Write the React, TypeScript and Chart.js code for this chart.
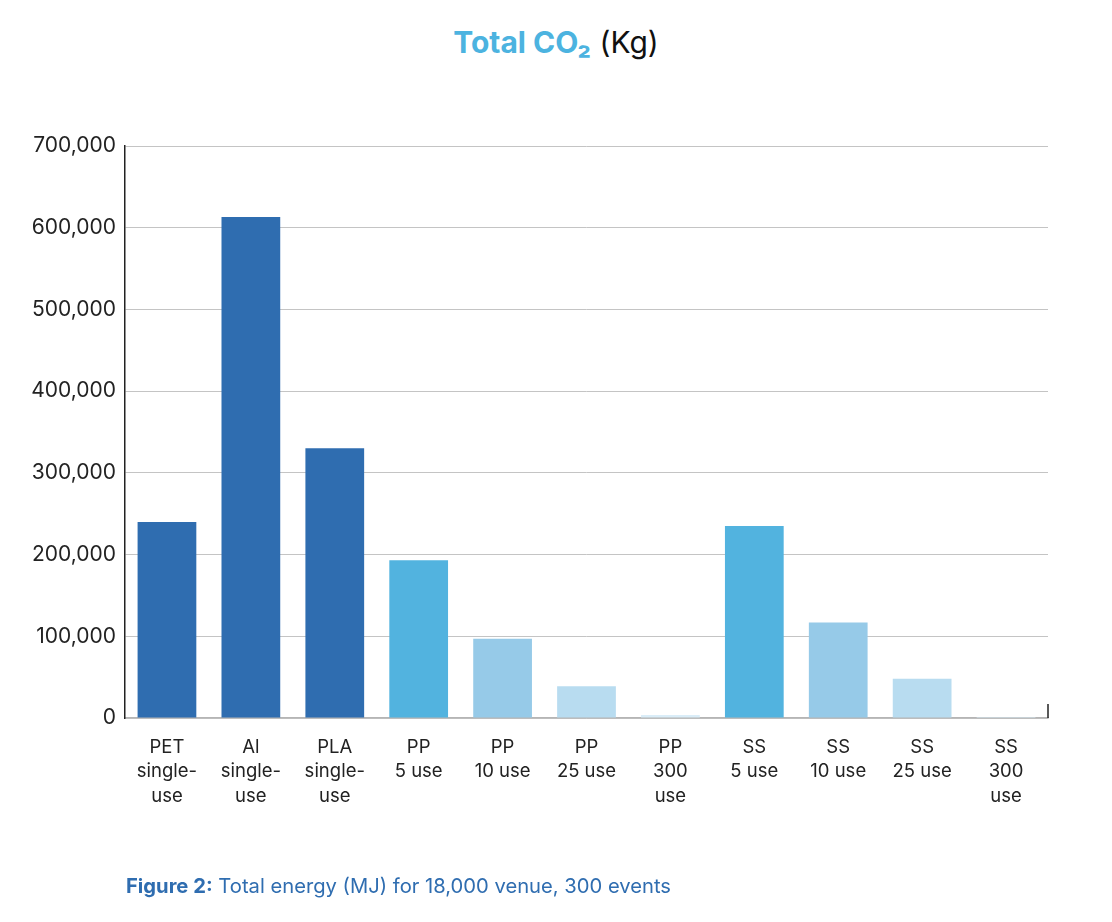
import React, { useEffect, useRef } from "react";
import { Chart, registerables } from "chart.js";

Chart.register(...registerables);

const categories: string[][] = [
  ["PET", "single-", "use"],
  ["Al", "single-", "use"],
  ["PLA", "single-", "use"],
  ["PP", "5 use"],
  ["PP", "10 use"],
  ["PP", "25 use"],
  ["PP", "300", "use"],
  ["SS", "5 use"],
  ["SS", "10 use"],
  ["SS", "25 use"],
  ["SS", "300", "use"],
];
const co2Values: number[] = [240000, 613000, 330000, 193000, 97000, 39000, 3700, 235000, 117000, 48000, 1200];
const barColors: string[] = [
  "#2f6db0", "#2f6db0", "#2f6db0",
  "#52b3df", "#96cae8", "#b8dcf0", "#daedf8",
  "#52b3df", "#96cae8", "#b8dcf0", "#daedf8",
];
const yMax = 700000;
const yStep = 100000;

const FONT = "Inter, 'Liberation Sans', Arial, sans-serif";

const rightTick = {
  id: "rightTick",
  afterDraw(chart: any) {
    const { ctx, chartArea } = chart;
    ctx.save();
    ctx.strokeStyle = "#222";
    ctx.lineWidth = 1.5;
    ctx.beginPath();
    ctx.moveTo(chartArea.right, chartArea.bottom - 14);
    ctx.lineTo(chartArea.right, chartArea.bottom);
    ctx.stroke();
    ctx.restore();
  },
};

export default function App() {
  const ref = useRef<HTMLCanvasElement | null>(null);
  useEffect(() => {
    if (!ref.current) return;
    const chart = new Chart(ref.current, {
      type: "bar",
      data: {
        labels: categories,
        datasets: [
          {
            data: co2Values,
            backgroundColor: barColors,
            borderWidth: 0,
            categoryPercentage: 0.7,
            barPercentage: 1,
          },
        ],
      },
      options: {
        animation: false,
        responsive: false,
        maintainAspectRatio: false,
        layout: { padding: { left: 0, right: 64, top: 146, bottom: 0 } },
        plugins: { legend: { display: false }, tooltip: { enabled: false }, title: { display: false } },
        scales: {
          x: {
            grid: { display: false, drawTicks: false },
            border: { display: true, color: "#b5b5b5", width: 1.5 },
            ticks: {
              color: "#222",
              font: { family: FONT, size: 18.5, lineHeight: 1.32 },
              padding: 17,
              maxRotation: 0,
              autoSkip: false,
            },
            afterFit: (s: any) => { s.height = 204; },
          },
          y: {
            min: 0,
            max: yMax,
            grid: { color: "#c4c4c4", lineWidth: 1, drawTicks: false },
            border: { display: true, color: "#222", width: 1.5 },
            ticks: {
              stepSize: yStep,
              color: "#222",
              font: { family: FONT, size: 21 },
              padding: 9,
              callback: (v: any) => Number(v).toLocaleString("en-US"),
            },
            afterFit: (s: any) => { s.width = 125; },
          },
        },
      },
      plugins: [rightTick],
    });
    return () => chart.destroy();
  }, []);

  return (
    <div style={{ position: "absolute", left: 0, top: 0, width: 1112, height: 922, background: "#fff" }}>
      <div
        style={{
          position: "absolute",
          top: 22,
          left: 0,
          width: 1112,
          textAlign: "center",
          fontFamily: FONT,
          fontSize: 30,
          lineHeight: "40px",
          color: "#111",
        }}
      >
        <span style={{ color: "#4cb3e0", fontWeight: 700 }}>Total CO₂</span> (Kg)
      </div>
      <canvas ref={ref} width={1112} height={922} style={{ position: "absolute", left: 0, top: 0, width: 1112, height: 922 }} />
      <div
        style={{
          position: "absolute",
          top: 873,
          left: 126,
          fontFamily: FONT,
          fontSize: 20.2,
          lineHeight: "26px",
          color: "#2f6db0",
        }}
      >
        <span style={{ fontWeight: 700 }}>Figure 2:</span> Total energy (MJ) for 18,000 venue, 300 events
      </div>
    </div>
  );
}
